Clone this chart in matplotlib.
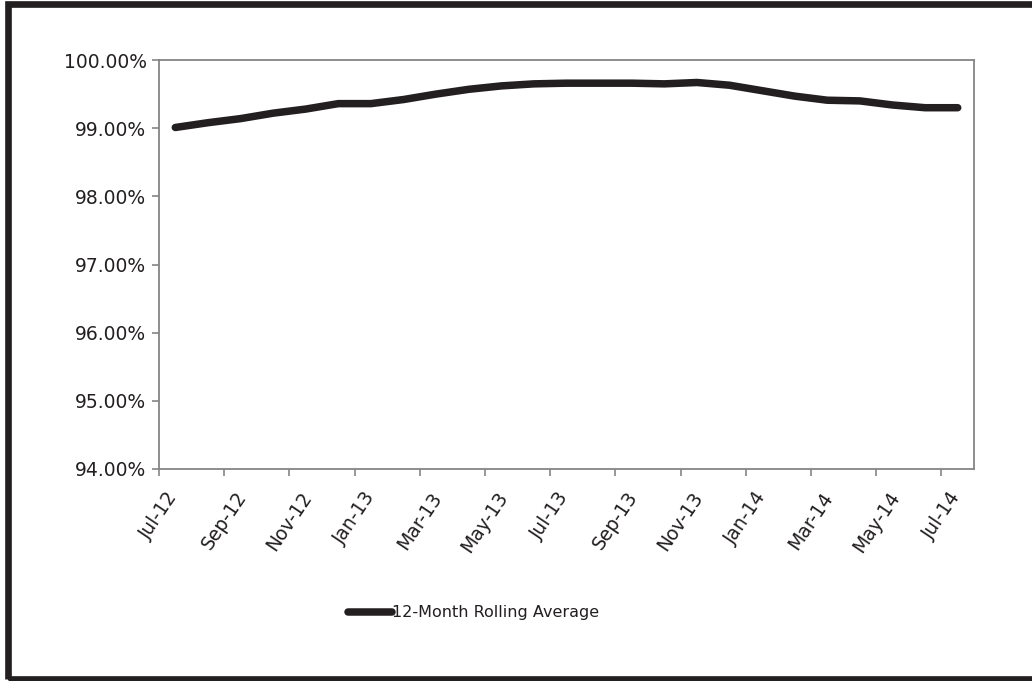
import matplotlib.pyplot as plt
from matplotlib.patches import Rectangle
from matplotlib.ticker import FuncFormatter

# monthly 12-month rolling average, Jul-12 .. Jul-14
months = ["Jul-12", "Aug-12", "Sep-12", "Oct-12", "Nov-12", "Dec-12",
          "Jan-13", "Feb-13", "Mar-13", "Apr-13", "May-13", "Jun-13",
          "Jul-13", "Aug-13", "Sep-13", "Oct-13", "Nov-13", "Dec-13",
          "Jan-14", "Feb-14", "Mar-14", "Apr-14", "May-14", "Jun-14",
          "Jul-14"]
rolling_avg = [99.01, 99.08, 99.14, 99.22, 99.28, 99.36,
               99.36, 99.42, 99.50, 99.57, 99.62, 99.65,
               99.66, 99.66, 99.66, 99.65, 99.67, 99.63,
               99.55, 99.47, 99.41, 99.40, 99.34, 99.30,
               99.30]
y_ticks = [94, 95, 96, 97, 98, 99, 100]

ink = "#231f20"
grey = "#858585"

fig = plt.figure(figsize=(10.32, 6.81), dpi=100)
ax = fig.add_axes([159 / 1032, 1 - 469 / 681, (974 - 159) / 1032, (469 - 60) / 681])

# points sit in the middle of each month slot, ticks on slot edges
xs = [i + 0.5 for i in range(len(months))]
line, = ax.plot(xs, rolling_avg, color=ink, lw=5.4, solid_capstyle="round",
                solid_joinstyle="round", label="12-Month Rolling Average")

ax.set_xlim(0, len(months))
ax.set_ylim(94, 100)
ax.set_yticks(y_ticks)
ax.yaxis.set_major_formatter(FuncFormatter(lambda v, p: f"{v:.2f}%"))

tick_pos = list(range(0, len(months), 2))
ax.set_xticks(tick_pos)
ax.set_xticklabels([months[i] for i in tick_pos], rotation=56,
                   ha="center", va="top")

for s in ax.spines.values():
    s.set_color(grey)
    s.set_linewidth(1.3)
ax.tick_params(axis="both", direction="out", length=5, width=1.2,
               color=grey, labelsize=13.5, labelcolor=ink)
ax.tick_params(axis="x", pad=9)
ax.tick_params(axis="y", pad=4)

fig.legend(handles=[line], loc="center left",
           bbox_to_anchor=(334 / 1032, 1 - 613 / 681), frameon=False,
           fontsize=11.5, handlelength=2.7, handletextpad=0.05,
           labelcolor=ink)

# heavy outer frame
fig.patches.append(Rectangle((8 / 1032, 2 / 681), 1.1, 675 / 681,
                             transform=fig.transFigure, fill=False,
                             edgecolor=ink, linewidth=4.8, zorder=5))

fig.savefig("out.png", dpi=100)
